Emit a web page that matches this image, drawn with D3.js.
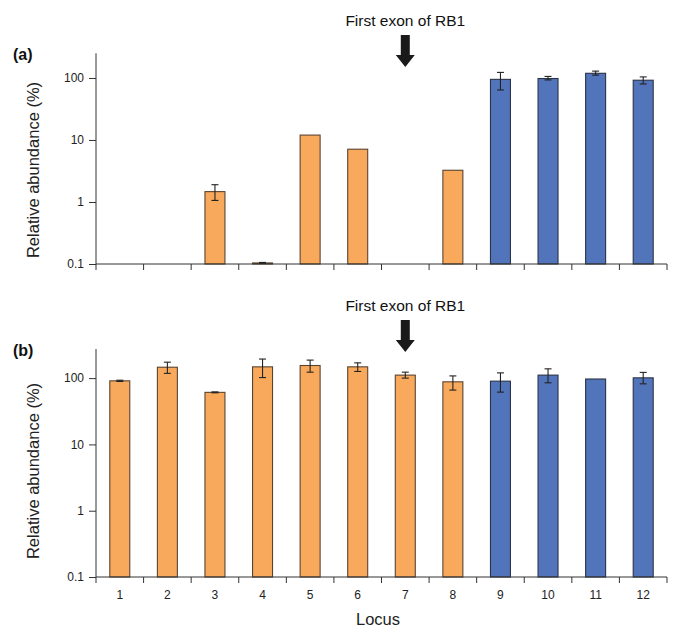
<!DOCTYPE html>
<html><head><meta charset="utf-8">
<script src="https://cdn.jsdelivr.net/npm/d3@7"></script>
<style>body{margin:0;background:#fff}svg{display:block;font-family:"Liberation Sans",Arial,Helvetica,sans-serif}</style>
</head><body><svg id="c" width="685" height="639"></svg>
<script>
const loci = ["1","2","3","4","5","6","7","8","9","10","11","12"];
const groups = ["o","o","o","o","o","o","o","o","b","b","b","b"];
// Panel (a)
const valuesA = [null, null, 1.47, 0.104, 12, 7.1, null, 3.25, 95, 98, 119, 92];
const errLoA  = [null, null, 1.06, 0.102, null, null, null, null, 64, 93, 111, 80];
const errHiA  = [null, null, 1.9, 0.106, null, null, null, null, 123, 106, 129, 104];
// Panel (b)
const valuesB = [91, 146, 61, 148, 155, 148, 111, 88, 90, 111, 97, 101];
const errLoB  = [89, 118, 60, 102, 123, 126, 100, 66, 61.5, 85, null, 82];
const errHiB  = [93, 174, 62, 194, 187, 170, 123, 108, 120, 138, null, 122];
const yTicks = [0.1, 1, 10, 100];
const arrowLocus = "7";
const arrowText = "First exon of RB1";

const colors = {o:"#F9A95C", b:"#5274BA"};
const strokes = {o:"#5a4430", b:"#2b3346"};
const svg = d3.select("#c");
const x = d3.scaleBand().domain(loci).range([96, 667]).paddingInner(0).paddingOuter(0);
const bw = x.bandwidth()*0.42;

function panel(cfg){
  const y = d3.scaleLog().domain([0.1, cfg.ymax]).range([cfg.y0, cfg.y1]);
  const g = svg.append("g");
  cfg.vals.forEach((v,i)=>{
    if(v==null) return;
    const cx = x(loci[i]) + x.bandwidth()/2;
    g.append("rect").attr("x", cx-bw/2).attr("y", y(v)).attr("width", bw)
     .attr("height", y(0.1)-y(v)).attr("fill", colors[groups[i]])
     .attr("stroke", strokes[groups[i]]).attr("stroke-width",1.1);
  });
  cfg.vals.forEach((v,i)=>{
    if(v==null || cfg.lo[i]==null) return;
    const cx = x(loci[i]) + x.bandwidth()/2;
    const e = g.append("g").attr("stroke","#222").attr("stroke-width",1.1);
    e.append("line").attr("x1",cx).attr("x2",cx).attr("y1",y(cfg.lo[i])).attr("y2",y(cfg.hi[i]));
    [cfg.lo[i], cfg.hi[i]].forEach(t=>e.append("line").attr("x1",cx-3.5).attr("x2",cx+3.5).attr("y1",y(t)).attr("y2",y(t)));
  });
  const ya = d3.axisLeft(y).tickValues(yTicks).tickFormat(d=>String(d)).tickSize(7).tickPadding(5);
  const yg = g.append("g").attr("transform","translate(96,0)").call(ya);
  yg.select(".domain").attr("d", `M0,${cfg.y0}V${cfg.y1}`).attr("stroke","#333");
  yg.selectAll(".tick line").attr("stroke","#333");
  yg.selectAll("text").attr("font-size",12).attr("fill","#222");
  const xg = g.append("g").attr("transform",`translate(0,${cfg.y0})`);
  xg.append("line").attr("x1",96).attr("x2",667).attr("stroke","#333");
  const bounds = loci.map(l=>x(l)).concat([x.range()[1]]);
  bounds.forEach(b=>xg.append("line").attr("x1",b).attr("x2",b).attr("y1",0).attr("y2",6).attr("stroke","#333"));
  if(cfg.labels){
    loci.forEach(l=>xg.append("text").attr("x",x(l)+x.bandwidth()/2).attr("y",21.5)
      .attr("text-anchor","middle").attr("font-size",12).attr("fill","#222").text(l));
  }
  svg.append("text").attr("transform",`translate(39,${cfg.ty}) rotate(-90)`).attr("text-anchor","middle")
    .attr("font-size",16.5).attr("fill","#222").text("Relative abundance (%)");
  svg.append("text").attr("x",13).attr("y",cfg.ly).attr("font-size",16).attr("font-weight","bold").attr("fill","#111").text(cfg.label);
  const ax = x(arrowLocus) + x.bandwidth()/2;
  svg.append("text").attr("x",ax).attr("y",cfg.ay-9).attr("text-anchor","middle").attr("font-size",15.5).attr("fill","#111").text(arrowText);
  const a0=cfg.ay, a1=cfg.ay+20, a2=cfg.ay+32;
  svg.append("path").attr("d",`M${ax-4.5},${a0}H${ax+4.5}V${a1}H${ax+9.5}L${ax},${a2}L${ax-9.5},${a1}H${ax-4.5}Z`).attr("fill","#1a1a1a");
}

panel({y0:264, y1:53.3, ymax:250, vals:valuesA, lo:errLoA, hi:errHiA, labels:false, ty:170, ly:60, label:"(a)", ay:35});
panel({y0:577, y1:349, ymax:275, vals:valuesB, lo:errLoB, hi:errHiB, labels:true, ty:471, ly:356, label:"(b)", ay:320});
svg.append("text").attr("x",378).attr("y",625).attr("text-anchor","middle").attr("font-size",16.5).attr("fill","#222").text("Locus");
</script></body></html>
